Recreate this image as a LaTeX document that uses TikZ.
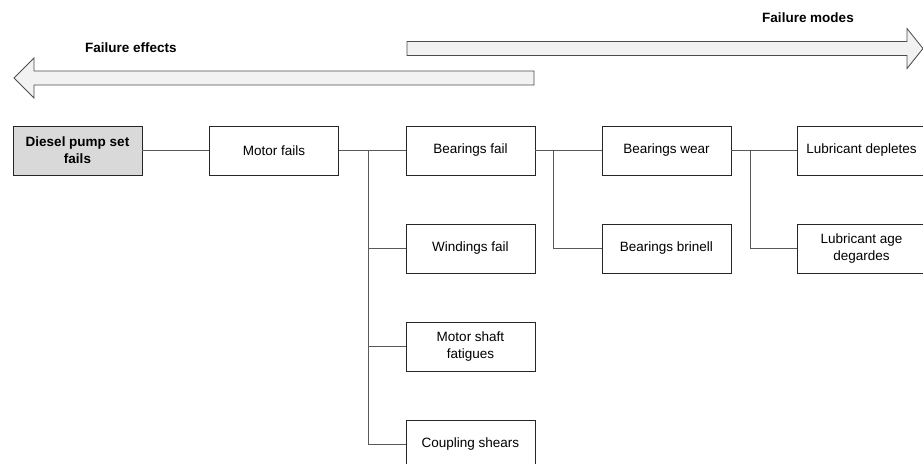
\documentclass[tikz,border=0pt]{standalone}
\usepackage{fontspec}
\setmainfont{Liberation Sans}
\usepackage{tikz}
\usetikzlibrary{calc}

\begin{document}
\begin{tikzpicture}[x=0.025cm,y=-0.025cm,
	box/.style={draw=black!85,fill=white,line width=0.6pt,minimum width=3.225cm,minimum height=1.225cm,align=center,inner sep=1pt,font=\fontsize{9.6}{12}\selectfont},
	topbox/.style={box,fill=gray!30,font=\fontsize{9.6}{12}\selectfont\bfseries},
	line/.style={draw=black!65,line width=0.6pt},
	bigarrow/.style={fill=black!5,draw=black!70,line width=0.6pt},
	title/.style={font=\fontsize{9.6}{12}\selectfont\bfseries}]
	
	\useasboundingbox (0,0) rectangle (923,463);
	
	%箭头
	\filldraw[bigarrow] (14,78) -- (34,58) -- (34,71) -- (534,71) -- (534,85) -- (34,85) -- (34,98) -- cycle;
	\filldraw[bigarrow] (923,48.5) -- (907,28.5) -- (907,41.5) -- (407,41.5) -- (407,55.5) -- (907,55.5) -- (907,68.5) -- cycle;
	\node (effects) at (131,48) [title]{Failure effects};
	\node (modes) at (808,18) [title]{Failure modes};
	
	%方框
	\node (diesel) at (77.5,150.5) [topbox]{Diesel pump set\\fails};
	\node (motor) at (274,150.5) [box]{Motor fails};
	\node (bearf) at (470.5,150.5) [box]{Bearings fail};
	\node (wind) at (470.5,248.5) [box]{Windings fail};
	\node (shaft) at (470.5,346.5) [box]{Motor shaft\\fatigues};
	\node (coup) at (470.5,444.5) [box]{Coupling shears};
	\node (bwear) at (666.5,150.5) [box]{Bearings wear};
	\node (brin) at (666.5,248.5) [box]{Bearings brinell};
	\node (lubd) at (861.5,150.5) [box]{Lubricant depletes};
	\node (lubage) at (861.5,248.5) [box]{Lubricant age\\degardes};
	
	%连线
	\coordinate (bus1) at (368,150.5);
	\coordinate (bus2) at (553,150.5);
	\coordinate (bus3) at (750,150.5);
	\draw[line] (diesel) -- (motor);
	\draw[line] (motor) -- (bearf);
	\draw[line] (bearf) -- (bwear);
	\draw[line] (bwear) -- (lubd);
	\foreach \n in {wind,shaft,coup}  {
		\draw[line] (bus1) |- (\n.west);
	}
	\draw[line] (bus2) |- (brin.west);
	\draw[line] (bus3) |- (lubage.west);
	
\end{tikzpicture}
\end{document}
